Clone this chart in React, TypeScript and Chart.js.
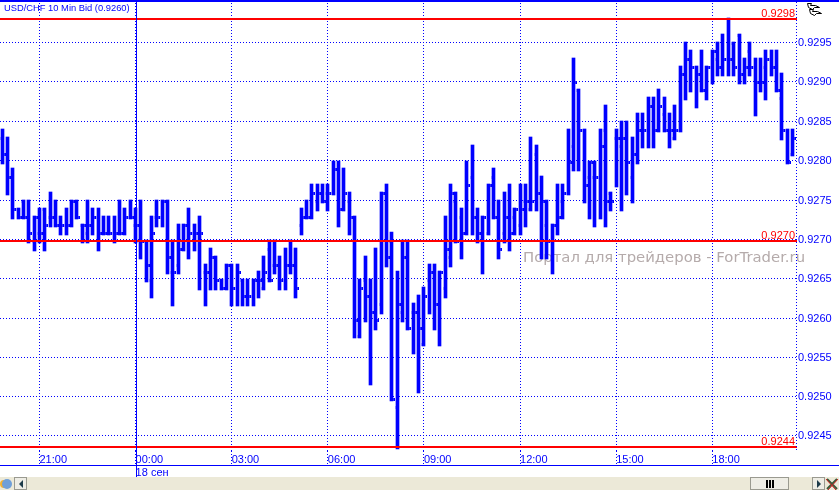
import React, { useEffect, useRef } from "react";
import { Chart, registerables } from "chart.js";

Chart.register(...registerables);

// Ten-minute bars, prices in pips (0.9283 = 9283).
const opens = [
  9283,9281,9278,9274,9275,9273,9270,9271,9274,9273,
  9273,9272,9272,9272,9275,9272,9271,9272,9273,9271,
  9271,9271,9271,9271,9273,9272,9272,9270,9265,9273,
  9273,9275,9266,9267,9269,9272,9271,9271,9266,9266,
  9268,9265,9264,9267,9264,9265,9263,9263,9265,9264,
  9269,9267,9267,9265,9267,9267,9272,9273,9273,9275,
  9276,9276,9276,9279,9274,9275,9273,9258,9265,9263,
  9261,9262,9276,9270,9249,9261,9268,9261,9261,9257,
  9265,9266,9262,9264,9268,9275,9273,9271,9278,9273,
  9271,9271,9278,9273,9271,9273,9273,9272,9275,9274,
  9281,9276,9272,9270,9272,9275,9276,9282,9289,9284,
  9278,9278,9278,9284,9276,9283,9282,9283,9278,9281,
  9284,9284,9287,9284,9286,9284,9283,9284,9291,9293,
  9292,9291,9289,9292,9293,9292,9293,9295,9296,9291,
  9294,9292,9290,9292,9293,9292,9288,9284,9281,
];
const highs = [
  9284,9283,9279,9274,9275,9275,9273,9274,9274,9276,
  9275,9273,9274,9275,9275,9272,9275,9274,9274,9273,
  9273,9273,9275,9274,9275,9274,9275,9270,9273,9275,
  9275,9275,9270,9272,9272,9274,9272,9273,9267,9269,
  9268,9265,9267,9267,9267,9265,9265,9265,9266,9268,
  9270,9270,9268,9269,9270,9269,9274,9275,9277,9277,
  9277,9277,9280,9280,9279,9276,9273,9265,9268,9265,
  9269,9276,9277,9271,9266,9270,9270,9262,9263,9264,
  9267,9267,9266,9273,9277,9276,9274,9280,9282,9274,
  9273,9277,9279,9275,9276,9277,9274,9277,9277,9283,
  9282,9278,9275,9272,9277,9277,9284,9293,9289,9284,
  9280,9280,9284,9287,9276,9284,9285,9285,9283,9286,
  9286,9288,9288,9289,9288,9286,9287,9292,9295,9294,
  9292,9294,9292,9294,9295,9296,9298,9295,9296,9293,
  9295,9293,9293,9294,9294,9294,9291,9284,9284,
];
const lows = [
  9280,9276,9273,9273,9273,9270,9269,9270,9269,9272,
  9272,9271,9271,9272,9273,9270,9270,9271,9269,9271,
  9271,9270,9271,9271,9273,9270,9268,9265,9263,9272,
  9272,9266,9262,9266,9269,9268,9269,9264,9262,9264,
  9264,9264,9264,9262,9262,9262,9262,9262,9263,9264,
  9265,9266,9264,9264,9266,9263,9271,9273,9273,9274,
  9275,9274,9276,9272,9274,9271,9258,9258,9260,9252,
  9259,9261,9267,9250,9244,9260,9259,9256,9251,9257,
  9261,9259,9257,9263,9267,9270,9268,9271,9271,9270,
  9266,9271,9273,9268,9270,9269,9271,9271,9272,9274,
  9274,9268,9268,9266,9271,9273,9276,9279,9279,9275,
  9273,9272,9273,9272,9274,9277,9274,9276,9275,9280,
  9282,9282,9282,9284,9284,9282,9283,9284,9288,9289,
  9287,9289,9288,9290,9291,9291,9291,9291,9290,9290,
  9291,9286,9289,9288,9291,9289,9283,9280,9281,
];
const closes = [
  9281,9278,9274,9273,9273,9271,9273,9271,9272,9273,
  9272,9272,9272,9275,9273,9272,9272,9273,9271,9271,
  9271,9271,9271,9273,9273,9272,9270,9267,9271,9273,
  9275,9268,9266,9269,9272,9271,9271,9271,9266,9268,
  9265,9264,9267,9264,9266,9263,9263,9265,9265,9266,
  9265,9267,9265,9267,9267,9264,9273,9273,9276,9276,
  9275,9276,9279,9274,9276,9273,9260,9264,9263,9261,
  9260,9276,9268,9250,9262,9268,9259,9261,9259,9263,
  9266,9262,9266,9269,9276,9270,9271,9277,9273,9271,
  9273,9277,9273,9269,9273,9271,9274,9274,9275,9275,
  9276,9275,9270,9272,9273,9276,9280,9290,9284,9277,
  9280,9278,9282,9275,9275,9283,9283,9280,9281,9284,
  9284,9287,9284,9287,9284,9284,9284,9291,9293,9292,
  9291,9289,9292,9294,9292,9293,9293,9292,9291,9292,
  9292,9290,9290,9293,9292,9289,9284,9280,9283,
];

// Horizontal levels with their captions.
const levels = [0.9298, 0.927, 0.9244];
const levelLabels = ["0.9298", "0.9270", "0.9244"];

// Price axis: where each gridline sits, and its printed label.
const priceTicks = [
  0.929503, 0.929005, 0.928506, 0.928013, 0.927508, 0.927016,
  0.926523, 0.926018, 0.925526, 0.925033, 0.924541,
];
const priceLabels = [
  "0.9295", "0.9290", "0.9285", "0.9280", "0.9275", "0.9270",
  "0.9265", "0.9260", "0.9255", "0.9250", "0.9245",
];

// Time axis: bar index of each gridline, and its printed label.
const timeTicks = [7, 25, 43, 61, 79, 97, 115, 133];
const timeLabels: (string | string[])[] = [
  "21:00", ["00:00", "18 сен"], "03:00", "06:00", "09:00", "12:00", "15:00", "18:00",
];
const dayBreakBar = 25;

const titleText = "USD/CHF 10 Min Bid (0.9260)";
const watermark = "Портал для трейдеров - ForTrader.ru";

const BLUE = "#0000ff";
const RED = "#ff0000";
const FONT = '"Liberation Sans", Arial, sans-serif';
const toPrice = (p: number) => p / 10000;
const TICK = 1.75;

const snapPlugin = {
  id: "snap",
  afterDatasetsUpdate(chart: any) {
    const xs = chart.scales.x;
    chart.data.datasets.forEach((ds: any, di: number) => {
      const meta = chart.getDatasetMeta(di);
      meta.data.forEach((el: any, j: number) => {
        if (ds.kind === "range") {
          const c = Math.floor(xs.getPixelForValue(j)) + 0.5;
          const top = Math.round(Math.min(el.y, el.base));
          const bot = Math.round(Math.max(el.y, el.base));
          el.x = c;
          el.width = 3;
          el.y = top - 1;
          el.base = bot + 2;
          el.height = el.base - el.y;
        } else if (ds.kind === "open" || ds.kind === "close") {
          const c = Math.floor(xs.getPixelForValue(j)) + 0.5;
          el.x = ds.kind === "open" ? c - TICK : c + TICK;
          el.y = Math.round(el.y) + 0.5;
        } else if (ds.kind === "level") {
          el.y = Math.round(el.y);
        }
      });
    });
  },
};

const decorPlugin = {
  id: "decor",
  beforeDatasetsDraw(chart: any) {
    const { ctx } = chart;
    ctx.save();
    ctx.font = "14.85px 'DejaVu Sans'";
    ctx.fillStyle = "#b5abab";
    ctx.textAlign = "left";
    ctx.textBaseline = "alphabetic";
    ctx.fillText(watermark, 523, 262);
    ctx.restore();
  },
  afterDraw(chart: any) {
    const { ctx, scales } = chart;
    const W = chart.width;
    ctx.save();
    // Frame lines
    ctx.fillStyle = BLUE;
    ctx.fillRect(0, 0, W, 2);
    ctx.fillRect(0, 465, W, 1);
    const sep = Math.round(scales.x.getPixelForValue(dayBreakBar));
    ctx.fillRect(sep, 0, 1, 477);
    // Dotted price-axis edge
    for (let y = 2; y < 451; y += 3) ctx.fillRect(796, y, 1, 1);

    // Title
    ctx.font = `9.35px ${FONT}`;
    ctx.textAlign = "left";
    ctx.textBaseline = "alphabetic";
    ctx.fillText(titleText, 4, 11);

    // Level captions
    ctx.fillStyle = RED;
    ctx.font = `11px ${FONT}`;
    ctx.textAlign = "right";
    levels.forEach((v, i) => {
      ctx.fillText(levelLabels[i], 795, Math.round(scales.y.getPixelForValue(v)) - 2);
    });

    // Corner glyph
    ctx.strokeStyle = "#000";
    ctx.fillStyle = "#fff";
    ctx.lineWidth = 1;
    [[807, 3], [809, 9]].forEach(([x, y]) => {
      ctx.beginPath();
      ctx.moveTo(x + 0.5, y + 0.5);
      ctx.lineTo(x + 4.5, y + 0.5);
      ctx.lineTo(x + 3.5, y + 2.5);
      ctx.lineTo(x + 8.5, y + 2.5);
      ctx.lineTo(x + 12.5, y + 4.5);
      ctx.lineTo(x + 7.5, y + 4.5);
      ctx.lineTo(x + 5.5, y + 6.5);
      ctx.lineTo(x + 1.5, y + 4.5);
      ctx.closePath();
      ctx.fill();
      ctx.stroke();
    });

    // Bottom bar
    ctx.fillStyle = "#ece9d8";
    ctx.fillRect(0, 477, W, 13);
    // left icon
    ctx.fillStyle = "#f2b233";
    ctx.beginPath();
    ctx.arc(4, 484, 4, 0, Math.PI * 2);
    ctx.fill();
    ctx.fillStyle = "#6f9fd8";
    ctx.beginPath();
    ctx.arc(7, 484, 5, 0, Math.PI * 2);
    ctx.fill();
    // buttons
    const button = (x: number, w: number) => {
      ctx.fillStyle = "#eeede5";
      ctx.fillRect(x, 477, w, 13);
      ctx.strokeStyle = "#9a9a90";
      ctx.strokeRect(x + 0.5, 477.5, w - 1, 12);
    };
    const arrow = (x: number, dir: number) => {
      ctx.fillStyle = "#1d3b4a";
      ctx.beginPath();
      ctx.moveTo(x, 480);
      ctx.lineTo(x, 488);
      ctx.lineTo(x + dir * 4, 484);
      ctx.closePath();
      ctx.fill();
    };
    button(14, 13);
    arrow(23, -1);
    button(750, 39);
    ctx.fillStyle = "#000";
    ctx.fillRect(766, 480, 2, 8);
    ctx.fillRect(769, 480, 2, 8);
    ctx.fillRect(772, 480, 2, 8);
    button(812, 13);
    arrow(817, 1);
    // close icon
    ctx.strokeStyle = "#3a5a3a";
    ctx.lineWidth = 2;
    ctx.beginPath();
    ctx.moveTo(827, 479);
    ctx.lineTo(837, 489);
    ctx.moveTo(837, 479);
    ctx.lineTo(827, 489);
    ctx.stroke();
    ctx.strokeStyle = "#d02020";
    ctx.lineWidth = 1;
    ctx.beginPath();
    ctx.moveTo(826, 479);
    ctx.lineTo(836, 490);
    ctx.moveTo(838, 479);
    ctx.lineTo(828, 490);
    ctx.stroke();
    ctx.restore();
  },
};

export default function App() {
  const ref = useRef<HTMLCanvasElement>(null);
  useEffect(() => {
    document.body.style.margin = "0";
    document.body.style.background = "#fff";
    const xMin = -0.393;
    const xMax = 148.86;
    const chart = new Chart(ref.current as HTMLCanvasElement, {
      type: "bar",
      plugins: [snapPlugin, decorPlugin],
      data: {
        datasets: [
          ...levels.map((v) => ({
            kind: "level",
            type: "line",
            data: [{ x: xMin, y: v }, { x: xMax, y: v }],
            borderColor: RED,
            borderWidth: 2,
            pointRadius: 0,
            order: 0,
          })),
          {
            kind: "range",
            type: "bar",
            data: highs.map((h, i) => ({ x: i, y: [toPrice(lows[i]), toPrice(h)] })),
            backgroundColor: BLUE,
            borderWidth: 0,
            barThickness: 3,
            order: 3,
          },
          {
            kind: "open",
            type: "scatter",
            data: opens.map((v, i) => ({ x: i - 0.33, y: toPrice(v) })),
            pointStyle: "dash",
            pointRadius: TICK,
            borderColor: BLUE,
            backgroundColor: BLUE,
            borderWidth: 3,
            order: 2,
          },
          {
            kind: "close",
            type: "scatter",
            data: closes.map((v, i) => ({ x: i + 0.33, y: toPrice(v) })),
            pointStyle: "dash",
            pointRadius: TICK,
            borderColor: BLUE,
            backgroundColor: BLUE,
            borderWidth: 3,
            order: 1,
          },
        ] as any,
      },
      options: {
        responsive: false,
        animation: false,
        events: [],
        layout: { padding: 0, autoPadding: false },
        plugins: { legend: { display: false }, tooltip: { enabled: false }, title: { display: false } },
        scales: {
          x: {
            type: "linear",
            min: xMin,
            max: xMax,
            offset: false,
            afterBuildTicks(s: any) {
              s.ticks = timeTicks.map((value) => ({ value }));
            },
            afterFit(s: any) {
              s.height = 40;
              s.paddingLeft = 0;
              s.paddingRight = 0;
            },
            border: { display: false, dash: [1, 2] },
            grid: {
              offset: false,
              color: BLUE,
              lineWidth: 1,
              tickColor: BLUE,
              tickLength: 14,
              tickBorderDash: [1, 2],
            } as any,
            ticks: {
              autoSkip: false,
              maxRotation: 0,
              minRotation: 0,
              align: "start",
              padding: -12,
              color: BLUE,
              font: { size: 11, family: FONT },
              callback: (_v: any, i: number) => timeLabels[i],
            },
          },
          y: {
            type: "linear",
            position: "right",
            min: 0.924345,
            max: 0.93004,
            afterBuildTicks(s: any) {
              s.ticks = priceTicks.map((value) => ({ value }));
            },
            afterFit(s: any) {
              s.width = 42;
              s.paddingTop = 0;
              s.paddingBottom = 0;
            },
            border: { display: false, dash: [1, 2] },
            grid: { color: BLUE, lineWidth: 1, drawTicks: false, tickLength: 0 } as any,
            ticks: {
              autoSkip: false,
              padding: 1,
              color: BLUE,
              font: { size: 11, family: FONT },
              callback: (_v: any, i: number) => priceLabels[i],
            },
          },
        },
      } as any,
    });
    return () => chart.destroy();
  }, []);
  return (
    <div style={{ position: "fixed", left: 0, top: 0, width: 839, height: 491, background: "#fff" }}>
      <canvas ref={ref} width={839} height={491} style={{ display: "block" }} />
    </div>
  );
}
